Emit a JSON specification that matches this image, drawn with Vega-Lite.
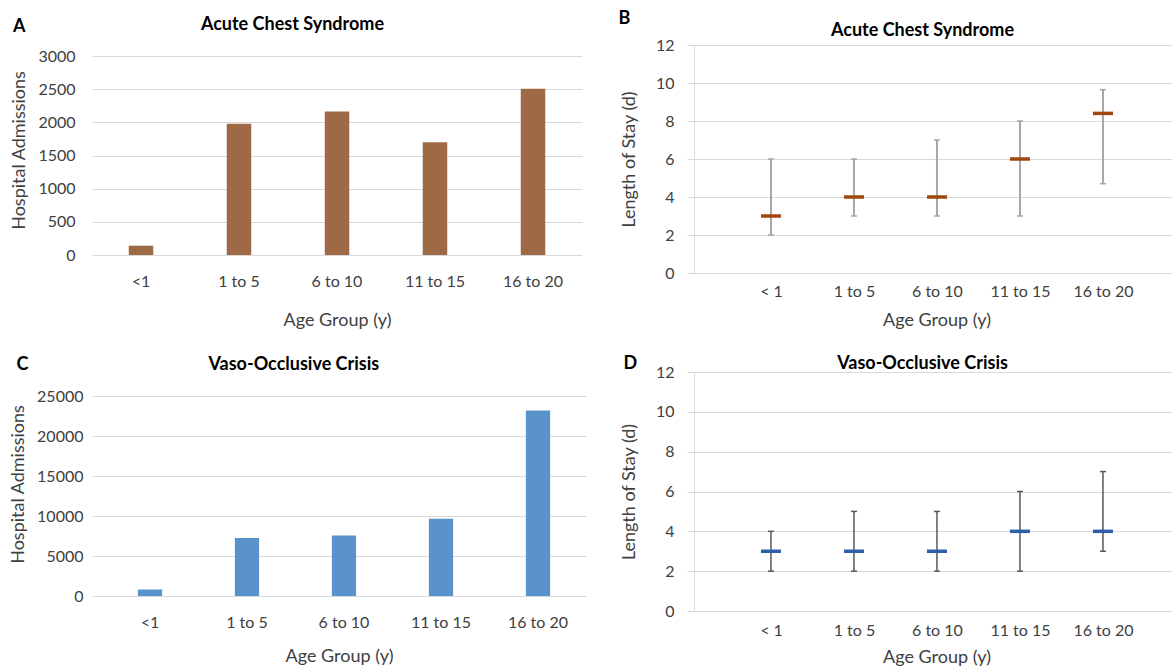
{
  "$schema": "https://vega.github.io/schema/vega-lite/v6.json",
  "padding": {"left": 9, "top": 10, "right": 0, "bottom": 0},
  "background": "white",
  "config": {
    "font": "Lato",
    "view": {"stroke": null},
    "axis": {"labelFont": "Lato", "titleFont": "Lato", "labelColor": "#404040", "titleColor": "#404040", "labelFontSize": 16, "titleFontSize": 18, "titleFontWeight": "normal", "gridColor": "#D9D9D9", "domainColor": "#D9D9D9", "tickColor": "#D9D9D9"},
    "title": {"font": "Lato", "fontWeight": "bold", "color": "#000000", "fontSize": 18}
  },
  "datasets": {
    "acs_adm": [
      {"age": "<1", "adm": 140},
      {"age": "1 to 5", "adm": 1980},
      {"age": "6 to 10", "adm": 2165},
      {"age": "11 to 15", "adm": 1700},
      {"age": "16 to 20", "adm": 2505}
    ],
    "voc_adm": [
      {"age": "<1", "adm": 800},
      {"age": "1 to 5", "adm": 7250},
      {"age": "6 to 10", "adm": 7550},
      {"age": "11 to 15", "adm": 9650},
      {"age": "16 to 20", "adm": 23200}
    ],
    "acs_los": [
      {"age": "< 1", "median": 3, "lo": 2, "hi": 6},
      {"age": "1 to 5", "median": 4, "lo": 3, "hi": 6},
      {"age": "6 to 10", "median": 4, "lo": 3, "hi": 7},
      {"age": "11 to 15", "median": 6, "lo": 3, "hi": 8},
      {"age": "16 to 20", "median": 8.4, "lo": 4.7, "hi": 9.65}
    ],
    "voc_los": [
      {"age": "< 1", "median": 3, "lo": 2, "hi": 4},
      {"age": "1 to 5", "median": 3, "lo": 2, "hi": 5},
      {"age": "6 to 10", "median": 3, "lo": 2, "hi": 5},
      {"age": "11 to 15", "median": 4, "lo": 2, "hi": 6},
      {"age": "16 to 20", "median": 4, "lo": 3, "hi": 7}
    ]
  },
  "spacing": 32,
  "hconcat": [
    {
      "spacing": 27,
      "vconcat": [
        {
          "title": {"text": "A", "anchor": "start", "fontSize": 18, "dy": 24, "dx": 2},
          "vconcat": [
            {
              "width": 490, "height": 210,
              "title": {"text": "Acute Chest Syndrome", "anchor": "middle", "frame": "bounds", "offset": 11, "dx": -4},
              "data": {"name": "acs_adm"},
              "mark": {"type": "bar", "color": "#9E6A45"},
              "encoding": {
                "x": {"field": "age", "type": "nominal", "sort": null, "scale": {"paddingInner": 0.75, "paddingOuter": 0.375},
                  "axis": {"title": "Age Group (y)", "labelAngle": 0, "domain": false, "ticks": false, "labelPadding": 18, "titlePadding": 22}},
                "y": {"field": "adm", "type": "quantitative", "scale": {"domain": [0, 3165.83], "nice": false},
                  "axis": {"title": "Hospital Admissions", "format": "d", "values": [0, 500, 1000, 1500, 2000, 2500, 3000], "domain": false, "ticks": false, "labelPadding": 17, "titlePadding": 9, "grid": true}}
              }
            }
          ]
        },
        {
          "title": {"text": "C", "anchor": "start", "fontSize": 18, "dy": 22, "dx": 7},
          "vconcat": [
            {
              "width": 494, "height": 224,
              "title": {"text": "Vaso-Occlusive Crisis", "anchor": "middle", "frame": "bounds", "offset": -2, "dx": -4},
              "data": {"name": "voc_adm"},
              "mark": {"type": "bar", "color": "#5A93CB"},
              "encoding": {
                "x": {"field": "age", "type": "nominal", "sort": null, "scale": {"paddingInner": 0.75, "paddingOuter": 0.4214, "align": 0.561},
                  "axis": {"title": "Age Group (y)", "labelAngle": 0, "domain": false, "ticks": false, "labelPadding": 18, "titlePadding": 17}},
                "y": {"field": "adm", "type": "quantitative", "scale": {"domain": [0, 28000], "nice": false},
                  "axis": {"title": "Hospital Admissions", "format": "d", "values": [0, 5000, 10000, 15000, 20000, 25000], "domain": false, "ticks": false, "labelPadding": 9, "titlePadding": 9, "grid": true}}
              }
            }
          ]
        }
      ]
    },
    {
      "spacing": 26,
      "vconcat": [
        {
          "title": {"text": "B", "anchor": "start", "fontSize": 18, "dy": 10, "dx": -2},
          "vconcat": [
            {
              "width": 485, "height": 228,
              "title": {"text": "Acute Chest Syndrome", "anchor": "middle", "frame": "group", "dx": -14, "offset": -3},
              "data": {"name": "acs_los"},
              "encoding": {
                "x": {"field": "age", "type": "nominal", "sort": null, "scale": {"type": "point", "padding": 0.9217, "align": 0.503},
                  "axis": {"title": "Age Group (y)", "labelAngle": 0, "domain": true, "ticks": false, "labelPadding": 10, "titlePadding": 12}}
              },
              "layer": [
                {
                  "mark": {"type": "rule", "color": "#A6A6A6", "strokeWidth": 2},
                  "encoding": {
                    "y": {"field": "lo", "type": "quantitative", "title": "Length of Stay (d)", "scale": {"domain": [0, 12], "nice": false},
                      "axis": {"values": [0, 2, 4, 6, 8, 10, 12], "domain": true, "ticks": true, "tickSize": 7, "labelPadding": 13, "titlePadding": 17, "grid": true}},
                    "y2": {"field": "hi"}
                  }
                },
                {
                  "mark": {"type": "tick", "color": "#A6A6A6", "opacity": 1, "size": 6, "thickness": 1.5, "orient": "horizontal"},
                  "encoding": {"y": {"field": "lo", "type": "quantitative", "title": "Length of Stay (d)", "scale": {"domain": [0, 12], "nice": false},
                      "axis": {"values": [0, 2, 4, 6, 8, 10, 12], "domain": true, "ticks": true, "tickSize": 7, "labelPadding": 13, "titlePadding": 17, "grid": true}}}
                },
                {
                  "mark": {"type": "tick", "color": "#A6A6A6", "opacity": 1, "size": 6, "thickness": 1.5, "orient": "horizontal"},
                  "encoding": {"y": {"field": "hi", "type": "quantitative", "title": "Length of Stay (d)", "scale": {"domain": [0, 12], "nice": false},
                      "axis": {"values": [0, 2, 4, 6, 8, 10, 12], "domain": true, "ticks": true, "tickSize": 7, "labelPadding": 13, "titlePadding": 17, "grid": true}}}
                },
                {
                  "mark": {"type": "tick", "color": "#9E480E", "opacity": 1, "size": 20, "thickness": 3.5, "orient": "horizontal"},
                  "encoding": {"y": {"field": "median", "type": "quantitative", "title": "Length of Stay (d)", "scale": {"domain": [0, 12], "nice": false},
                      "axis": {"values": [0, 2, 4, 6, 8, 10, 12], "domain": true, "ticks": true, "tickSize": 7, "labelPadding": 13, "titlePadding": 17, "grid": true}}}
                }
              ]
            }
          ]
        },
        {
          "title": {"text": "D", "anchor": "start", "fontSize": 18, "dy": 22, "dx": 3},
          "vconcat": [
            {
              "width": 485, "height": 239,
              "title": {"text": "Vaso-Occlusive Crisis", "anchor": "middle", "frame": "group", "dx": -14, "offset": -9},
              "data": {"name": "voc_los"},
              "encoding": {
                "x": {"field": "age", "type": "nominal", "sort": null, "scale": {"type": "point", "padding": 0.9217, "align": 0.503},
                  "axis": {"title": "Age Group (y)", "labelAngle": 0, "domain": true, "ticks": false, "labelPadding": 11, "titlePadding": 10}}
              },
              "layer": [
                {
                  "mark": {"type": "rule", "color": "#595959", "strokeWidth": 1.5},
                  "encoding": {
                    "y": {"field": "lo", "type": "quantitative", "title": "Length of Stay (d)", "scale": {"domain": [0, 12], "nice": false},
                      "axis": {"values": [0, 2, 4, 6, 8, 10, 12], "domain": true, "ticks": true, "tickSize": 7, "labelPadding": 13, "titlePadding": 17, "grid": true}},
                    "y2": {"field": "hi"}
                  }
                },
                {
                  "mark": {"type": "tick", "color": "#595959", "opacity": 1, "size": 6, "thickness": 1.5, "orient": "horizontal"},
                  "encoding": {"y": {"field": "lo", "type": "quantitative", "title": "Length of Stay (d)", "scale": {"domain": [0, 12], "nice": false},
                      "axis": {"values": [0, 2, 4, 6, 8, 10, 12], "domain": true, "ticks": true, "tickSize": 7, "labelPadding": 13, "titlePadding": 17, "grid": true}}}
                },
                {
                  "mark": {"type": "tick", "color": "#595959", "opacity": 1, "size": 6, "thickness": 1.5, "orient": "horizontal"},
                  "encoding": {"y": {"field": "hi", "type": "quantitative", "title": "Length of Stay (d)", "scale": {"domain": [0, 12], "nice": false},
                      "axis": {"values": [0, 2, 4, 6, 8, 10, 12], "domain": true, "ticks": true, "tickSize": 7, "labelPadding": 13, "titlePadding": 17, "grid": true}}}
                },
                {
                  "mark": {"type": "tick", "color": "#2F5EA8", "opacity": 1, "size": 20, "thickness": 3.5, "orient": "horizontal"},
                  "encoding": {"y": {"field": "median", "type": "quantitative", "title": "Length of Stay (d)", "scale": {"domain": [0, 12], "nice": false},
                      "axis": {"values": [0, 2, 4, 6, 8, 10, 12], "domain": true, "ticks": true, "tickSize": 7, "labelPadding": 13, "titlePadding": 17, "grid": true}}}
                }
              ]
            }
          ]
        }
      ]
    }
  ]
}
